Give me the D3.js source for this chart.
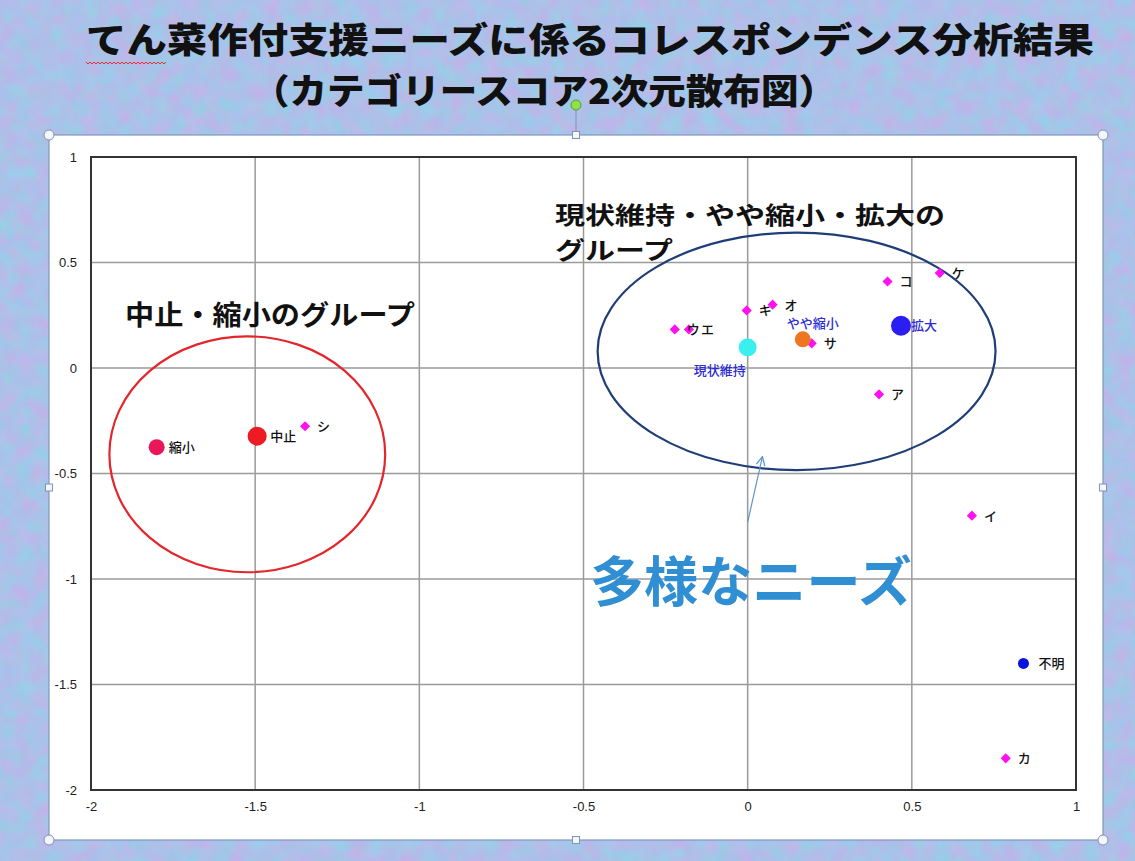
<!DOCTYPE html>
<html><head><meta charset="utf-8">
<script src="https://cdn.jsdelivr.net/npm/d3@7"></script>
<style>html,body{margin:0;padding:0;overflow:hidden;background:#adc1e8}</style>
</head><body>
<script>
// ---- data ----
const titleLines = ["てん菜作付支援ニーズに係るコレスポンデンス分析結果", "（カテゴリースコア2次元散布図）"];
const diamondLabels = ["ア","イ","ウ","エ","オ","カ","キ","ケ","コ","サ","シ"];
const diamondX = [0.40, 0.683, -0.222, -0.179, 0.076, 0.786, -0.003, 0.585, 0.426, 0.195, -1.348];
const diamondY = [-0.125, -0.70, 0.183, 0.183, 0.30, -1.85, 0.273, 0.45, 0.41, 0.117, -0.276];
const circleLabels = ["縮小","中止","現状維持","やや縮小","拡大","不明"];
const circleX = [-1.80, -1.494, 0.0, 0.168, 0.467, 0.84];
const circleY = [-0.375, -0.323, 0.098, 0.136, 0.20, -1.40];
const xTicks = [-2, -1.5, -1, -0.5, 0, 0.5, 1];
const yTicks = [1, 0.5, 0, -0.5, -1, -1.5, -2];
const groupNotes = ["中止・縮小のグループ", "現状維持・やや縮小・拡大の", "グループ"];
const calloutText = "多様なニーズ";
// group ellipses in data units: [cx, cy, rx, ry]
const ellipseRed = [-1.524, -0.409, 0.42, 0.559];
const ellipseBlue = [0.149, 0.079, 0.606, 0.563];
const arrowFrom = [0.0, -0.73];
const arrowTo = [0.045, -0.42];

// ---- drawing ----
const W = 1135, H = 861;
const svg = d3.select("body").append("svg").attr("width", W).attr("height", H);
const defs = svg.append("defs");
const f = defs.append("filter").attr("id", "tex").attr("x", 0).attr("y", 0).attr("width", 1).attr("height", 1)
  .attr("color-interpolation-filters", "sRGB");
f.append("feTurbulence").attr("type", "fractalNoise").attr("baseFrequency", 0.06).attr("numOctaves", 4).attr("seed", 7);
f.append("feColorMatrix").attr("type", "matrix")
  .attr("values", "0.25 0 0 0 0.55  -0.15 0.04 0 0 0.81  0 0 0.04 0 0.89  0 0 0 0 1");
svg.append("rect").attr("width", W).attr("height", H).attr("filter", "url(#tex)");

const jp = "'Noto Sans CJK JP','Noto Sans',sans-serif";

// title
svg.append("text").attr("x", 86).attr("y", 53).attr("font-family", jp).attr("font-weight", 900)
  .attr("font-size", 35).attr("fill", "#111").attr("textLength", 1008).attr("lengthAdjust", "spacingAndGlyphs")
  .text(titleLines[0]);
svg.append("text").attr("x", 252).attr("y", 104).attr("font-family", jp).attr("font-weight", 900)
  .attr("font-size", 35).attr("fill", "#111").attr("textLength", 584).attr("lengthAdjust", "spacingAndGlyphs")
  .text(titleLines[1]);
// spell-check squiggle under "てん"
let sq = "M86,62";
for (let xx = 86; xx < 166; xx += 4) sq += ` L${xx + 2},64 L${xx + 4},62`;
svg.append("path").attr("d", sq).attr("fill", "none").attr("stroke", "#e03030").attr("stroke-width", 1);

// chart frame
const fx0 = 49, fy0 = 135, fx1 = 1103, fy1 = 840;
svg.append("rect").attr("x", fx0).attr("y", fy0).attr("width", fx1 - fx0).attr("height", fy1 - fy0)
  .attr("fill", "#fff").attr("stroke", "#7f97bf").attr("stroke-width", 1.2);

// scales
const x = d3.scaleLinear().domain([-2, 1]).range([91, 1076]);
const y = d3.scaleLinear().domain([-2, 1]).range([790, 157]);

// grid
const g = svg.append("g");
g.selectAll(".gx").data(xTicks.slice(1, -1)).join("line")
  .attr("x1", d => x(d)).attr("x2", d => x(d)).attr("y1", y(1)).attr("y2", y(-2))
  .attr("stroke", "#9a9a9a").attr("stroke-width", 1.5);
g.selectAll(".gy").data(yTicks.slice(1, -1)).join("line")
  .attr("x1", x(-2)).attr("x2", x(1)).attr("y1", d => y(d)).attr("y2", d => y(d))
  .attr("stroke", "#9a9a9a").attr("stroke-width", 1.5);
g.append("rect").attr("x", x(-2)).attr("y", y(1)).attr("width", x(1) - x(-2)).attr("height", y(-2) - y(1))
  .attr("fill", "none").attr("stroke", "#333").attr("stroke-width", 2);

// axes labels
const fmt = d => String(d);
const xa = svg.append("g").attr("transform", `translate(0,${y(-2) + 2})`)
  .call(d3.axisBottom(x).tickValues(xTicks).tickFormat(fmt).tickSize(0).tickPadding(10));
const ya = svg.append("g").attr("transform", `translate(${x(-2) - 4},0)`)
  .call(d3.axisLeft(y).tickValues(yTicks).tickFormat(fmt).tickSize(0).tickPadding(10));
[xa, ya].forEach(a => {
  a.select(".domain").remove();
  a.selectAll("text").attr("font-family", "Arial,'Liberation Sans',sans-serif").attr("font-size", 13).attr("fill", "#222");
});

// ellipses
const ell = (e, col, sw) => svg.append("ellipse")
  .attr("cx", x(e[0])).attr("cy", y(e[1]))
  .attr("rx", x(e[0] + e[2]) - x(e[0])).attr("ry", y(e[1] - e[3]) - y(e[1]))
  .attr("fill", "none").attr("stroke", col).attr("stroke-width", sw);
ell(ellipseRed, "#e3262c", 2.2);
ell(ellipseBlue, "#1f3e78", 2.2);

// arrow
defs.append("marker").attr("id", "ah").attr("viewBox", "0 0 10 10").attr("refX", 9).attr("refY", 5)
  .attr("markerWidth", 9).attr("markerHeight", 9).attr("orient", "auto")
  .append("path").attr("d", "M1,1 L9,5 L1,9").attr("fill", "none").attr("stroke", "#5b97c9").attr("stroke-width", 1.2);
svg.append("line").attr("x1", x(arrowFrom[0])).attr("y1", y(arrowFrom[1]))
  .attr("x2", x(arrowTo[0])).attr("y2", y(arrowTo[1]))
  .attr("stroke", "#5b97c9").attr("stroke-width", 1.2).attr("marker-end", "url(#ah)");

// group notes
svg.append("text").attr("x", 125).attr("y", 325).attr("font-family", jp).attr("font-weight", 700)
  .attr("font-size", 27).attr("fill", "#111").attr("textLength", 290).attr("lengthAdjust", "spacingAndGlyphs").text(groupNotes[0]);
svg.append("text").attr("x", 555).attr("y", 224).attr("font-family", jp).attr("font-weight", 700)
  .attr("font-size", 24).attr("fill", "#111").attr("textLength", 390).attr("lengthAdjust", "spacingAndGlyphs").text(groupNotes[1]);
svg.append("text").attr("x", 555).attr("y", 259).attr("font-family", jp).attr("font-weight", 700)
  .attr("font-size", 24).attr("fill", "#111").attr("textLength", 118).attr("lengthAdjust", "spacingAndGlyphs").text(groupNotes[2]);

// callout
svg.append("text").attr("x", 590).attr("y", 602).attr("font-family", jp).attr("font-weight", 700)
  .attr("font-size", 54).attr("fill", "#2f8fd2").attr("textLength", 322).attr("lengthAdjust", "spacingAndGlyphs")
  .text(calloutText);

// diamonds
const diamonds = diamondLabels.map((l, i) => ({l, x: diamondX[i], y: diamondY[i]}));
const sym = d3.symbol().type(d3.symbolSquare).size(52);
svg.append("g").selectAll("path").data(diamonds).join("path")
  .attr("d", sym).attr("fill", "#ff10f0")
  .attr("transform", d => `translate(${x(d.x)},${y(d.y)}) rotate(45)`);
svg.append("g").selectAll("text").data(diamonds).join("text")
  .attr("x", d => x(d.x) + 12).attr("y", d => y(d.y) + 5)
  .attr("font-family", jp).attr("font-weight", 500).attr("font-size", 13).attr("fill", "#111")
  .text(d => d.l);

// circles
const cStyle = {
  "縮小": {r: 8, c: "#e8175a", lc: "#111", dx: 12, dy: 5, a: "start"},
  "中止": {r: 9.5, c: "#ee1a24", lc: "#111", dx: 13, dy: 5, a: "start"},
  "現状維持": {r: 9, c: "#3af0ee", lc: "#2b2bd8", dx: -28, dy: 28, a: "middle"},
  "やや縮小": {r: 8, c: "#ef7621", lc: "#2b2bd8", dx: 10, dy: -11, a: "middle"},
  "拡大": {r: 10, c: "#2b1ef2", lc: "#2b2bd8", dx: 10, dy: 4, a: "start"},
  "不明": {r: 5.5, c: "#0b12dc", lc: "#111", dx: 15, dy: 5, a: "start"}
};
const circles = circleLabels.map((l, i) => ({l, x: circleX[i], y: circleY[i]}));
svg.append("g").selectAll("circle").data(circles).join("circle")
  .attr("cx", d => x(d.x)).attr("cy", d => y(d.y)).attr("r", d => cStyle[d.l].r).attr("fill", d => cStyle[d.l].c);
svg.append("g").selectAll("text").data(circles).join("text")
  .attr("x", d => x(d.x) + cStyle[d.l].dx).attr("y", d => y(d.y) + cStyle[d.l].dy)
  .attr("text-anchor", d => cStyle[d.l].a)
  .attr("font-family", jp).attr("font-weight", 500).attr("font-size", 13).attr("fill", d => cStyle[d.l].lc)
  .text(d => d.l);

// selection handles (PowerPoint-style)
const mx = (fx0 + fx1) / 2, my = (fy0 + fy1) / 2;
svg.append("line").attr("x1", mx).attr("x2", mx).attr("y1", 110).attr("y2", fy0 - 3).attr("stroke", "#7f93b5").attr("stroke-width", 1);
svg.append("circle").attr("cx", mx).attr("cy", 105).attr("r", 5).attr("fill", "#8fe04a").attr("stroke", "#5a9a2a");
[[fx0, fy0], [fx1, fy0], [fx0, fy1], [fx1, fy1]].forEach(p =>
  svg.append("circle").attr("cx", p[0]).attr("cy", p[1]).attr("r", 5).attr("fill", "#f4f6fa").attr("stroke", "#7f93b5"));
[[mx, fy0], [mx, fy1], [fx0, my], [fx1, my]].forEach(p =>
  svg.append("rect").attr("x", p[0] - 3.5).attr("y", p[1] - 3.5).attr("width", 7).attr("height", 7)
    .attr("fill", "#f4f6fa").attr("stroke", "#7f93b5"));
</script>
</body></html>
